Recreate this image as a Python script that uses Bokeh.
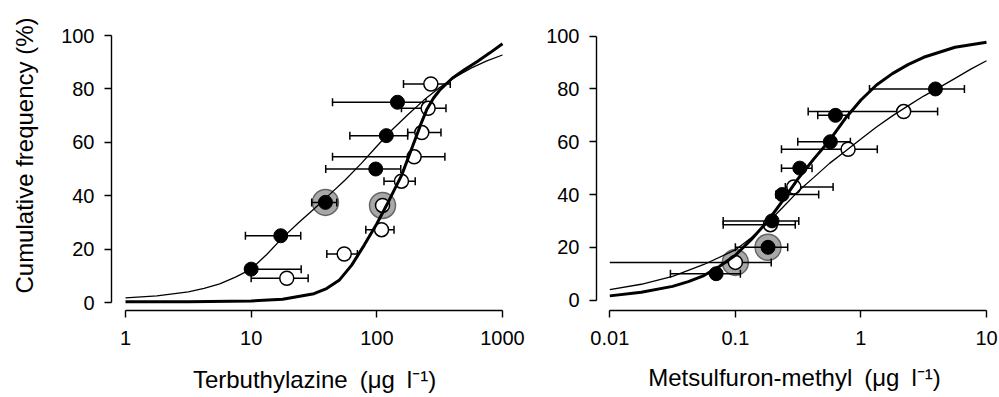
import math
from bokeh.plotting import figure
from bokeh.models import ColumnDataSource, Whisker, TeeHead, FixedTicker, Range1d
from bokeh.layouts import row
from bokeh.embed import file_html
from bokeh.resources import INLINE

FONT = "Liberation Sans"

# ---------------- Terbuthylazine (left panel) ----------------
tb_filled_x = [10, 17.2, 39, 98, 119, 146]
tb_filled_y = [12.5, 25, 37.5, 50, 62.5, 75]
tb_filled_lo = [10, 9.0, 30.3, 39.2, 61, 44.4]
tb_filled_hi = [25, 24.8, 48, 155, 176, 246]

tb_open_x = [19.2, 55, 109, 111, 157, 198, 228, 256, 269]
tb_open_y = [9.09, 18.18, 27.27, 36.36, 45.45, 54.55, 63.64, 72.73, 81.82]
tb_open_lo = [10, 40, 81.7, 101, 114, 44.4, 176, 157, 163]
tb_open_hi = [28.4, 70, 137, 122, 202, 348, 324, 355, 384]

tb_ring_x = [39, 111]
tb_ring_y = [37.5, 36.36]

tb_thin_x = [1, 1.78, 3.16, 4.22, 5.62, 7.50, 10, 13.3, 17.8, 23.7, 31.6, 42.2,
             56.2, 75.0, 100, 133, 178, 237, 316, 422, 562, 750, 1000]
tb_thin_y = [1.7, 2.5, 4.0, 5.3, 7.0, 9.5, 12.5, 18.0, 24.3, 29.8, 35.0, 40.5,
             46.0, 52.0, 58.5, 64.8, 70.5, 75.8, 80.5, 84.5, 87.8, 90.5, 92.7]

tb_thick_x = [1, 3.16, 10, 17.8, 31.6, 39.8, 50.1, 63.1, 79.4, 100, 126, 158,
              200, 224, 251, 282, 316, 398, 501, 631, 794, 1000]
tb_thick_y = [0.3, 0.3, 0.6, 1.2, 3.3, 5.2, 8.3, 14.0, 21.5, 29.5, 38.5, 47.8,
              60.6, 66.8, 72.5, 76.5, 79.5, 84.0, 87.3, 90.3, 93.5, 96.9]

tb_ticks = [1, 10, 100, 1000]
tb_tick_labels = ["1", "10", "100", "1000"]

# ---------------- Metsulfuron-methyl (right panel) ----------------
ms_filled_x = [0.0703, 0.182, 0.196, 0.236, 0.326, 0.571, 0.627, 3.92]
ms_filled_y = [10, 20, 30, 40, 50, 60, 70, 80]
ms_filled_lo = [0.0304, 0.100, 0.080, 0.21, 0.233, 0.314, 0.453, 1.17]
ms_filled_hi = [0.1096, 0.261, 0.32, 0.461, 0.408, 0.824, 0.80, 6.67]

ms_open_x = [0.100, 0.190, 0.292, 0.79, 2.19]
ms_open_y = [14.29, 28.57, 42.86, 57.14, 71.43]
ms_open_lo = [0.01, 0.080, 0.25, 0.233, 0.38]
ms_open_hi = [0.193, 0.30, 0.60, 1.35, 4.08]

ms_ring_x = [0.100, 0.182]
ms_ring_y = [14.29, 20]

ms_thick_x = [0.01, 0.0178, 0.0316, 0.0422, 0.0562, 0.075, 0.1, 0.133, 0.178,
              0.237, 0.316, 0.422, 0.562, 0.75, 1.0, 1.33, 1.78, 2.37, 3.16, 5.62, 10]
ms_thick_y = [1.6, 3.0, 5.2, 7.0, 9.3, 12.8, 17.0, 22.8, 29.5,
              37.5, 46.0, 53.5, 60.5, 68.8, 75.8, 81.5, 85.8, 89.2, 92.0, 95.8, 97.7]

ms_thin_x = [0.01, 0.0178, 0.0316, 0.0562, 0.1, 0.133, 0.178, 0.237, 0.316, 0.422,
             0.562, 0.75, 1.0, 1.33, 1.78, 2.37, 3.16, 4.22, 5.62, 7.5, 10]
ms_thin_y = [4.0, 6.0, 9.0, 13.5, 19.0, 23.5, 29.0, 35.0, 41.2, 46.5,
             51.8, 56.4, 61.0, 65.6, 69.8, 73.6, 77.3, 80.6, 84.0, 87.5, 90.7]

ms_ticks = [0.01, 0.1, 1, 10]
ms_tick_labels = ["0.01", "0.1", "1", "10"]

y_ticks = [0, 20, 40, 60, 80, 100]
y_title = "Cumulative frequency (%)"
x_title_left = "Terbuthylazine\u2002(μg\u2002l⁻¹)"
x_title_right = "Metsulfuron-methyl\u2002(μg\u2002l⁻¹)"


def make_panel(width, bl, br, bb, xr, yr, xticks, xlabels, xtitle, title_standoff):
    p = figure(width=width, height=397, x_axis_type="log",
               x_range=Range1d(*xr), y_range=Range1d(*yr),
               output_backend="svg", toolbar_location=None,
               min_border_left=bl, min_border_right=br,
               min_border_top=0, min_border_bottom=bb)
    p.outline_line_color = None
    p.grid.visible = False
    p.background_fill_color = "white"
    p.border_fill_color = "white"

    xa = p.xaxis[0]
    xa.ticker = FixedTicker(ticks=xticks)
    xa.major_label_overrides = dict(zip(xticks, xlabels))
    xa.bounds = (xticks[0], xticks[-1])
    ya = p.yaxis[0]
    ya.ticker = FixedTicker(ticks=y_ticks)
    ya.bounds = (0, 100)
    for ax in (xa, ya):
        ax.major_tick_out = 7
        ax.major_tick_in = 0
        ax.minor_tick_line_color = None
        ax.axis_line_width = 1.4
        ax.major_tick_line_width = 1.4
        ax.axis_line_color = "black"
        ax.major_tick_line_color = "black"
        ax.major_label_text_font = FONT
        ax.major_label_text_font_size = "20px"
        ax.major_label_text_color = "black"
        ax.axis_label_text_font = FONT
        ax.axis_label_text_font_size = "24px"
        ax.axis_label_text_font_style = "normal"
        ax.axis_label_text_color = "black"
    xa.major_label_standoff = 13
    ya.major_label_standoff = 10
    xa.axis_label = xtitle
    xa.axis_label_standoff = title_standoff
    return p


def add_whiskers(p, y, lo, hi, lower_cap=True):
    src = ColumnDataSource(dict(y=y, lo=lo, hi=hi))
    w = Whisker(source=src, base="y", lower="lo", upper="hi", dimension="width",
                line_color="black", line_width=1.5, level="underlay",
                upper_head=TeeHead(size=8, line_width=1.5, line_color="black"),
                lower_head=TeeHead(size=8, line_width=1.5, line_color="black") if lower_cap else None)
    p.add_layout(w)


def add_points(p, fx, fy, ox, oy, rx, ry):
    p.scatter(rx, ry, size=26, fill_color="#a8a8a8", line_color="#666666",
              line_width=1.5, level="image")
    p.scatter(ox, oy, size=14, fill_color="white", line_color="black", line_width=1.5)
    p.scatter(fx, fy, size=14, fill_color="black", line_color="black", line_width=1)


# ---------------- left panel ----------------
p1 = make_panel(526, 111, 9, 397 - 310,
                (10 ** (-14 / 125.67), 10 ** (3 + 15 / 125.67)), (-8 / 2.67, 302 / 2.67),
                tb_ticks, tb_tick_labels, x_title_left, 18)
add_whiskers(p1, tb_filled_y, tb_filled_lo, tb_filled_hi)
add_whiskers(p1, tb_open_y, tb_open_lo, tb_open_hi)
add_points(p1, tb_filled_x, tb_filled_y, tb_open_x, tb_open_y, tb_ring_x, tb_ring_y)
p1.line(tb_thin_x, tb_thin_y, line_color="black", line_width=1.3)
p1.line(tb_thick_x, tb_thick_y, line_color="black", line_width=3)

ya1 = p1.yaxis[0]
ya1.axis_label = y_title
ya1.axis_label_standoff = 20

# ---------------- right panel ----------------
p2 = make_panel(473, 70, 7, 397 - 313,
                (10 ** (-2 - 13.3 / 125.57), 10 ** (1 + 6 / 125.57)), (-10.5 / 2.665, 302.5 / 2.665),
                ms_ticks, ms_tick_labels, x_title_right, 16)
add_whiskers(p2, ms_filled_y, ms_filled_lo, ms_filled_hi)
add_whiskers(p2, ms_open_y[1:], ms_open_lo[1:], ms_open_hi[1:])
add_whiskers(p2, ms_open_y[:1], ms_open_lo[:1], ms_open_hi[:1], lower_cap=False)
add_points(p2, ms_filled_x, ms_filled_y, ms_open_x, ms_open_y, ms_ring_x, ms_ring_y)
p2.line(ms_thin_x, ms_thin_y, line_color="black", line_width=1.3)
p2.line(ms_thick_x, ms_thick_y, line_color="black", line_width=3)

layout = row(p1, p2)
open("out.html", "w").write(file_html(layout, INLINE))
